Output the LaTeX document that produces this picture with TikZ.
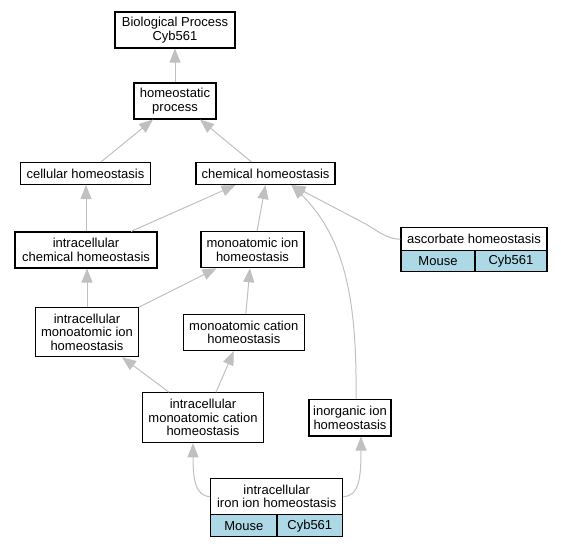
\documentclass[tikz,border=0pt]{standalone}
\usepackage{fontspec}
\setmainfont{Liberation Sans}
\usetikzlibrary{arrows.meta}
\definecolor{lightblue}{HTML}{ADD8E6}
\definecolor{edgegray}{HTML}{C0C0C0}
\begin{document}
\begin{tikzpicture}[x=1pt,y=-1pt,
  box/.style={draw=black, line width=1.1pt, fill=white, inner sep=0pt, align=center,
    font=\fontsize{13}{13.5}\selectfont},
  cellbox/.style={box, fill=lightblue},
  edge/.style={draw=edgegray, line width=1pt, -{Triangle[length=14pt,width=11pt,fill=edgegray]}}]
\useasboundingbox (0,0) rectangle (561,547);
% nodes
\node[box, minimum width=120pt, minimum height=36pt] (bp) at (175,30) {Biological Process\\Cyb561};
\node[box, minimum width=82pt, minimum height=36pt] (homeo) at (175,101) {homeostatic\\process};
\node[box, minimum width=130pt, minimum height=22pt] (cell) at (85.5,173.5) {cellular homeostasis};
\node[box, minimum width=139pt, minimum height=22pt] (chem) at (265.5,173.5) {chemical homeostasis};
\node[box, minimum width=142pt, minimum height=36pt] (ichem) at (86,250) {intracellular\\chemical homeostasis};
\node[box, minimum width=103pt, minimum height=36pt] (mion) at (252.5,249.7) {monoatomic ion\\homeostasis};
\node[box, minimum width=146pt, minimum height=23pt] (asc) at (474,239.2) {ascorbate homeostasis};
\node[cellbox, minimum width=74pt, minimum height=21pt] (ascm) at (438,261.2) {Mouse};
\node[cellbox, minimum width=72pt, minimum height=21pt] (ascg) at (511,261.2) {Cyb561};
\node[box, minimum width=103pt, minimum height=49pt] (imion) at (87,332.2) {intracellular\\monoatomic ion\\homeostasis};
\node[box, minimum width=121pt, minimum height=36pt] (mcat) at (243.8,332.5) {monoatomic cation\\homeostasis};
\node[box, minimum width=121pt, minimum height=50pt] (imcat) at (203,417.7) {intracellular\\monoatomic cation\\homeostasis};
\node[box, minimum width=82pt, minimum height=36.6pt] (inorg) at (350,417.7) {inorganic ion\\homeostasis};
\node[box, minimum width=132pt, minimum height=36.4pt] (iron) at (276.7,496.5) {intracellular\\iron ion homeostasis};
\node[cellbox, minimum width=66.3pt, minimum height=22pt] (ironm) at (243.8,525.7) {Mouse};
\node[cellbox, minimum width=65.7pt, minimum height=22pt] (irong) at (309.8,525.7) {Cyb561};
% edges
\draw[edge] (homeo.north) -- (bp.south);
\draw[edge] ([xshift=15.5pt]cell.north) -- ([xshift=-22pt]homeo.south);
\draw[edge] ([xshift=-14pt]chem.north) -- ([xshift=25pt]homeo.south);
\draw[edge] (ichem.north) -- (ichem.north |- cell.south);
\draw[edge] ([xshift=45pt]ichem.north) -- ([xshift=-30pt]chem.south);
\draw[edge] ([xshift=4.5pt]mion.north) -- (chem.south);
\draw[edge] (asc.west) .. controls (385,239) and (376,229) .. (362,222) -- ([xshift=26pt]chem.south);
\draw[edge] ([xshift=6pt]inorg.north) .. controls (357,310) and (348,240) .. ([xshift=26pt]chem.south);
\draw[edge] (imion.north) -- (imion.north |- ichem.south);
\draw[edge] (imion.north east) -- ([xshift=-36pt]mion.south);
\draw[edge] ([xshift=2pt]mcat.north) -- ([xshift=-2.5pt]mion.south);
\draw[edge] ([xshift=-34pt]imcat.north) -- ([xshift=35pt]imion.south);
\draw[edge] ([xshift=13pt]imcat.north) -- ([xshift=-10pt]mcat.south);
\draw[edge] (iron.west) .. controls (195,496.5) and (193,478) .. ([xshift=-10pt]imcat.south);
\draw[edge] (iron.east) .. controls (359,496.5) and (361,478) .. ([xshift=11pt]inorg.south);
\end{tikzpicture}
\end{document}
